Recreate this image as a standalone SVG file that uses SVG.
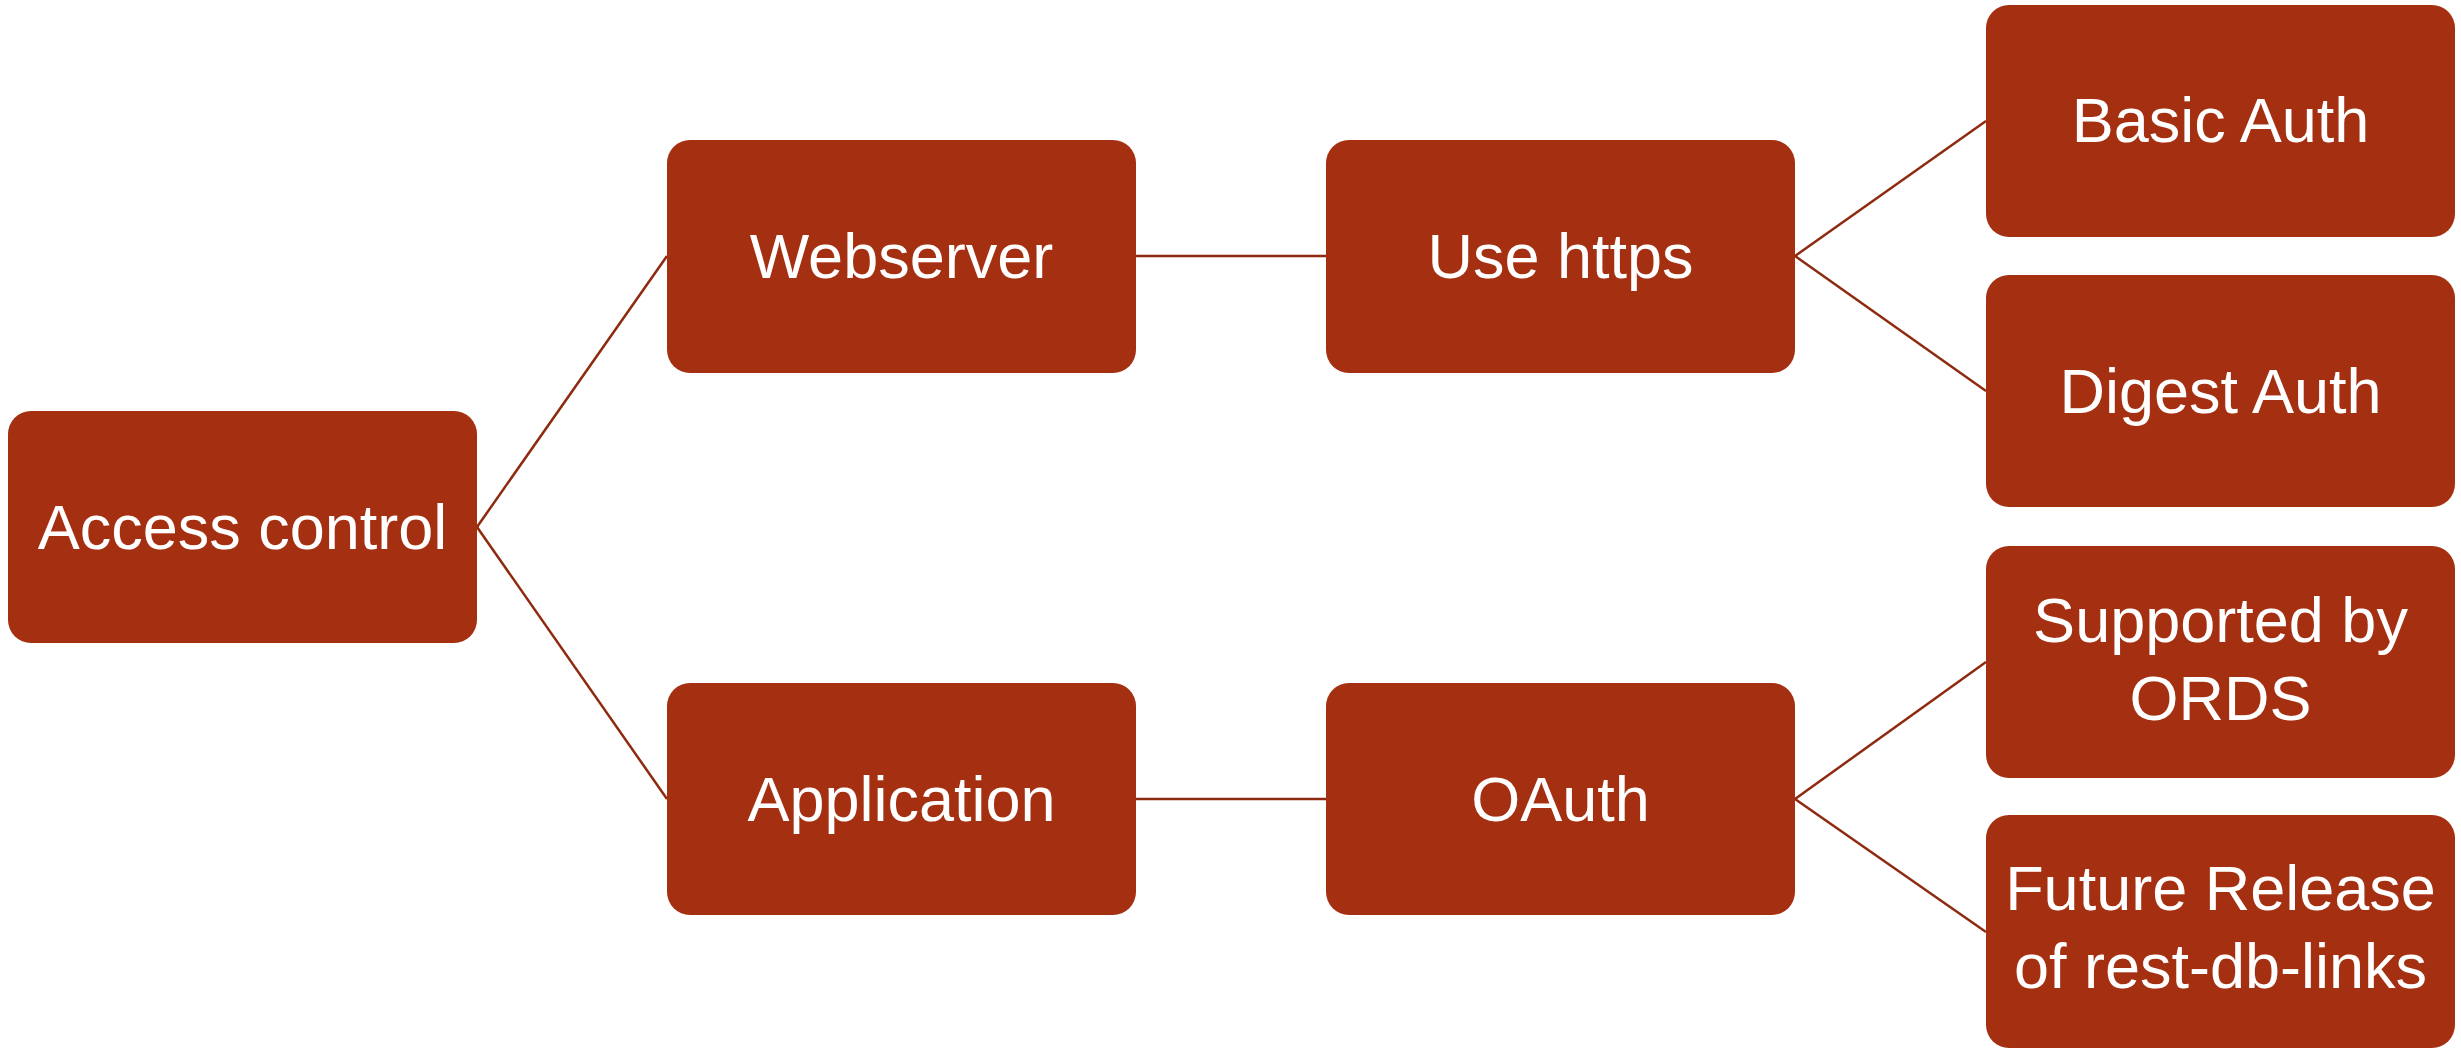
<svg xmlns="http://www.w3.org/2000/svg" width="2461" height="1048" viewBox="0 0 2461 1048">
<style>
.box{fill:#A52F11;}
.lbl{fill:#FFFFFF;font-family:"Liberation Sans",Arial,sans-serif;font-size:63px;text-anchor:middle;}
.conn{stroke:#8E2A0F;stroke-width:2.5;fill:none;}
</style>
<rect width="2461" height="1048" fill="#FFFFFF"/>
<g id="connectors">
<line class="conn" x1="477" y1="527" x2="667" y2="256"/>
<line class="conn" x1="477" y1="527" x2="667" y2="799"/>
<line class="conn" x1="1136" y1="256" x2="1326" y2="256"/>
<line class="conn" x1="1136" y1="799" x2="1326" y2="799"/>
<line class="conn" x1="1795" y1="256" x2="1986" y2="121"/>
<line class="conn" x1="1795" y1="256" x2="1986" y2="391"/>
<line class="conn" x1="1795" y1="799" x2="1986" y2="662"/>
<line class="conn" x1="1795" y1="799" x2="1986" y2="932"/>
</g>
<g id="access-control">
<rect class="box" x="8" y="411" width="469" height="232" rx="23"/>
<text class="lbl" x="242.5" y="549">Access control</text>
</g>
<g id="webserver">
<rect class="box" x="667" y="140" width="469" height="233" rx="23"/>
<text class="lbl" x="901.5" y="278">Webserver</text>
</g>
<g id="use-https">
<rect class="box" x="1326" y="140" width="469" height="233" rx="23"/>
<text class="lbl" x="1560.5" y="278">Use https</text>
</g>
<g id="application">
<rect class="box" x="667" y="683" width="469" height="232" rx="23"/>
<text class="lbl" x="901.5" y="821">Application</text>
</g>
<g id="oauth">
<rect class="box" x="1326" y="683" width="469" height="232" rx="23"/>
<text class="lbl" x="1560.5" y="821">OAuth</text>
</g>
<g id="basic-auth">
<rect class="box" x="1986" y="5" width="469" height="232" rx="23"/>
<text class="lbl" x="2220.5" y="142">Basic Auth</text>
</g>
<g id="digest-auth">
<rect class="box" x="1986" y="275" width="469" height="232" rx="23"/>
<text class="lbl" x="2220.5" y="413">Digest Auth</text>
</g>
<g id="supported-by-ords">
<rect class="box" x="1986" y="546" width="469" height="232" rx="23"/>
<text class="lbl" x="2220.5" y="642">Supported by</text>
<text class="lbl" x="2220.5" y="720">ORDS</text>
</g>
<g id="future-release">
<rect class="box" x="1986" y="815" width="469" height="233" rx="23"/>
<text class="lbl" x="2220.5" y="910">Future Release</text>
<text class="lbl" x="2220.5" y="988">of rest-db-links</text>
</g>
</svg>
